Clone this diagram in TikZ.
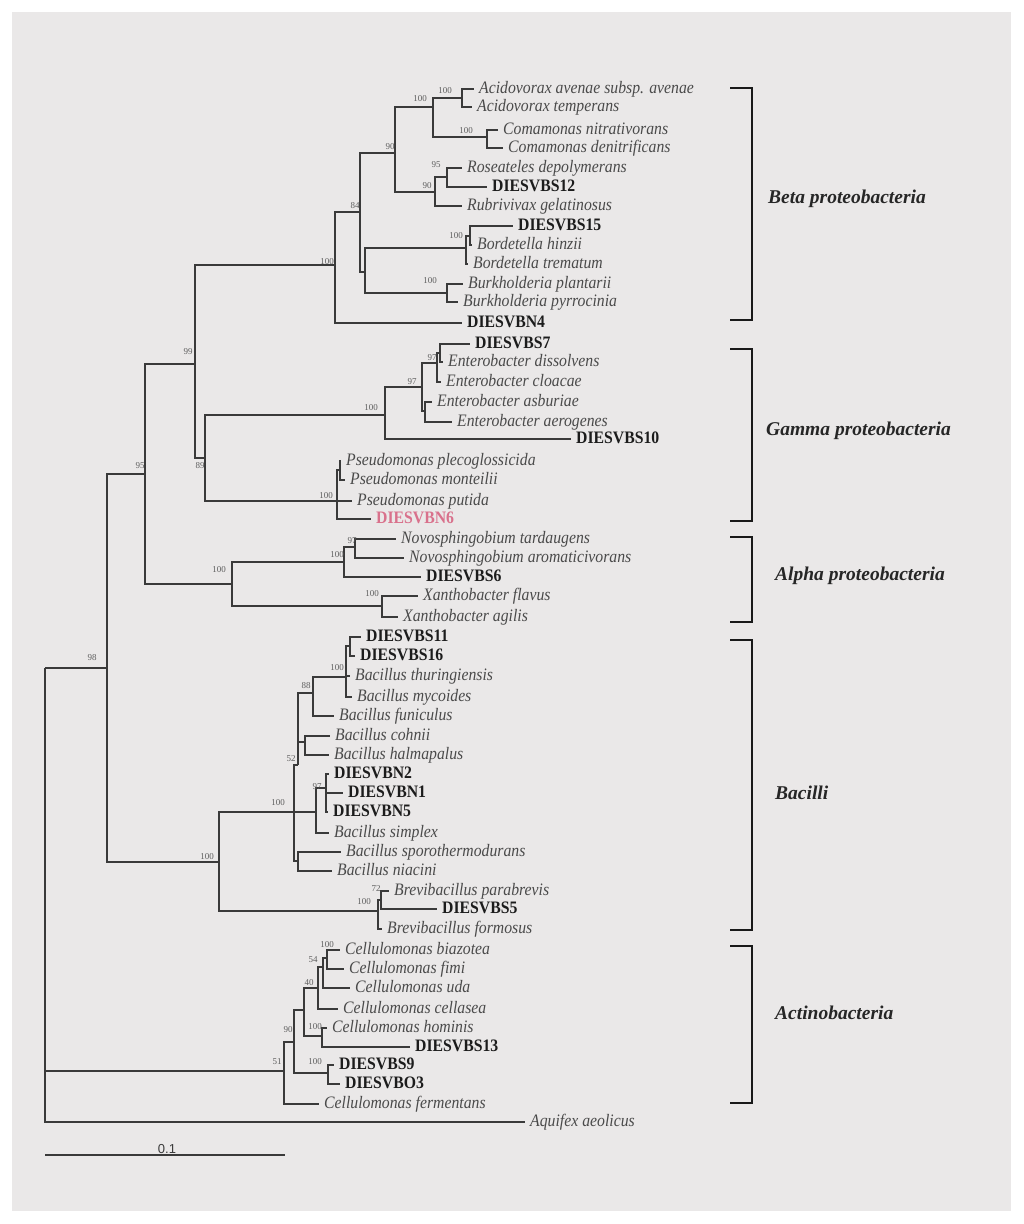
\documentclass[tikz,border=0pt]{standalone}
\usepackage{fontspec}
\setmainfont{Liberation Serif}
\newfontfamily\namefont{Liberation Serif}[FakeStretch=0.9]
\newfontfamily\barfont{Liberation Sans}

\definecolor{panel}{HTML}{EAE8E8}
\definecolor{branchcol}{HTML}{3A3A3A}
\definecolor{namecol}{HTML}{4A4A4A}
\definecolor{straincol}{HTML}{1C1C1C}
\definecolor{isolatecol}{HTML}{D9718C}
\definecolor{bootcol}{HTML}{5E5E5E}

\tikzset{
  branch/.style={draw=branchcol, line width=1.4pt},
  taxon/.style={anchor=west, inner xsep=5pt, inner ysep=0pt, text height=10pt, text depth=2pt,
    font={\namefont\fontsize{17.5}{18}\selectfont\itshape}, text=namecol},
  strain/.style={taxon, font={\namefont\fontsize{17.5}{18}\selectfont\bfseries}, text=straincol},
  boot/.style={inner sep=0pt, font={\fontsize{9}{9}\selectfont}, text=bootcol},
  bracket/.style={draw=black!90, line width=2.6pt},
  clade/.style={anchor=west, inner sep=0pt, font={\fontsize{19.5}{20}\selectfont\bfseries\itshape}, text=black!85},
}

\begin{document}
\begin{tikzpicture}[x=1pt, y=-1pt]
\useasboundingbox (0,0) rectangle (1024,1224);
\fill[panel] (12,12) rectangle (1011,1211);

% inner nodes of the tree
\coordinate (root) at (45,668);
\coordinate (n98) at (107,668);
\coordinate (n95) at (145,474);
\coordinate (n99) at (195,364);
\coordinate (nbeta) at (335,265);
\coordinate (n84) at (360,212);
\coordinate (n90a) at (395,153);
\coordinate (nacid) at (433,107);
\coordinate (nava) at (462,98);
\coordinate (ncoma) at (487,137);
\coordinate (n90b) at (435,192);
\coordinate (n95b) at (447,177);
\coordinate (nbb) at (365,272);
\coordinate (nbord) at (466,248);
\coordinate (nb2) at (470,236);
\coordinate (nburk) at (447,293);
\coordinate (n89) at (205,458);
\coordinate (nentero) at (385,415);
\coordinate (n97a) at (422,387);
\coordinate (n97b) at (437,363);
\coordinate (nds) at (440,353);
\coordinate (nasb) at (425,411);
\coordinate (npseudo) at (337,501);
\coordinate (nps2) at (340,470);
\coordinate (nalpha) at (232,584);
\coordinate (nnovo) at (344,562);
\coordinate (n97n) at (355,547);
\coordinate (nxan) at (382,606);
\coordinate (nbac) at (219,862);
\coordinate (nbx) at (294,812);
\coordinate (n52) at (298,765);
\coordinate (n88) at (313,693);
\coordinate (nthu) at (346,677);
\coordinate (nds11) at (350,646);
\coordinate (ncoh) at (305,742);
\coordinate (ndn) at (316,812);
\coordinate (n97d) at (326,788);
\coordinate (nsp) at (298,861);
\coordinate (nbrev) at (378,911);
\coordinate (n72) at (381,900);
\coordinate (nact) at (284,1071);
\coordinate (n90c) at (294,1042);
\coordinate (n40) at (304,1010);
\coordinate (nc1) at (318,988);
\coordinate (n54) at (323,967);
\coordinate (nbia) at (327,958);
\coordinate (nhom) at (322,1036);
\coordinate (nds9) at (328,1073);

% Beta proteobacteria
\node[taxon] (acav) at (474,89) {Acidovorax avenae subsp. avenae};
\node[taxon] (acte) at (472,107) {Acidovorax temperans};
\node[taxon] (conn) at (498,130) {Comamonas nitrativorans};
\node[taxon] (code) at (503,148) {Comamonas denitrificans};
\node[taxon] (rode) at (462,168) {Roseateles depolymerans};
\node[strain] (s12) at (487,187) {DIESVBS12};
\node[taxon] (rbge) at (462,206) {Rubrivivax gelatinosus};
\node[strain] (s15) at (513,226) {DIESVBS15};
\node[taxon] (bohi) at (472,245) {Bordetella hinzii};
\node[taxon] (botr) at (468,264) {Bordetella trematum};
\node[taxon] (bupl) at (463,284) {Burkholderia plantarii};
\node[taxon] (bupy) at (458,302) {Burkholderia pyrrocinia};
\node[strain] (n4) at (462,323) {DIESVBN4};

% Gamma proteobacteria
\node[strain] (s7) at (470,344) {DIESVBS7};
\node[taxon] (edis) at (443,362) {Enterobacter dissolvens};
\node[taxon] (eclo) at (441,382) {Enterobacter cloacae};
\node[taxon] (easb) at (432,402) {Enterobacter asburiae};
\node[taxon] (eaer) at (452,422) {Enterobacter aerogenes};
\node[strain] (s10) at (571,439) {DIESVBS10};
\node[taxon] (pspl) at (341,461) {Pseudomonas plecoglossicida};
\node[taxon] (psmo) at (345,480) {Pseudomonas monteilii};
\node[taxon] (pspu) at (352,501) {Pseudomonas putida};
\node[strain, text=isolatecol] (n6) at (371,519) {DIESVBN6};

% Alpha proteobacteria
\node[taxon] (nota) at (396,539) {Novosphingobium tardaugens};
\node[taxon] (noar) at (404,558) {Novosphingobium aromaticivorans};
\node[strain] (s6) at (421,577) {DIESVBS6};
\node[taxon] (xafl) at (418,596) {Xanthobacter flavus};
\node[taxon] (xaag) at (398,617) {Xanthobacter agilis};

% Bacilli
\node[strain] (s11) at (361,637) {DIESVBS11};
\node[strain] (s16) at (355,656) {DIESVBS16};
\node[taxon] (bath) at (350,676) {Bacillus thuringiensis};
\node[taxon] (bamy) at (352,697) {Bacillus mycoides};
\node[taxon] (bafu) at (334,716) {Bacillus funiculus};
\node[taxon] (baco) at (330,736) {Bacillus cohnii};
\node[taxon] (baha) at (329,755) {Bacillus halmapalus};
\node[strain] (n2) at (329,774) {DIESVBN2};
\node[strain] (n1) at (343,793) {DIESVBN1};
\node[strain] (n5) at (328,812) {DIESVBN5};
\node[taxon] (basi) at (329,833) {Bacillus simplex};
\node[taxon] (basp) at (341,852) {Bacillus sporothermodurans};
\node[taxon] (bani) at (332,871) {Bacillus niacini};
\node[taxon] (brpa) at (389,891) {Brevibacillus parabrevis};
\node[strain] (s5) at (437,909) {DIESVBS5};
\node[taxon] (brfo) at (382,929) {Brevibacillus formosus};

% Actinobacteria
\node[taxon] (ceb) at (340,950) {Cellulomonas biazotea};
\node[taxon] (cefi) at (344,969) {Cellulomonas fimi};
\node[taxon] (ceud) at (350,988) {Cellulomonas uda};
\node[taxon] (cece) at (338,1009) {Cellulomonas cellasea};
\node[taxon] (ceho) at (327,1028) {Cellulomonas hominis};
\node[strain] (s13) at (410,1047) {DIESVBS13};
\node[strain] (s9) at (334,1065) {DIESVBS9};
\node[strain] (o3) at (340,1084) {DIESVBO3};
\node[taxon] (cefe) at (319,1104) {Cellulomonas fermentans};
\node[taxon] (aqae) at (525,1122) {Aquifex aeolicus};

% branches
\draw[branch] (root) |- (n98) (root) |- (nact) (root) |- (aqae.west);
\draw[branch] (n98) |- (n95) (n98) |- (nbac);
\draw[branch] (n95) |- (n99) (n95) |- (nalpha);
\draw[branch] (n99) |- (nbeta) (n99) |- (n89);
\draw[branch] (nbeta) |- (n84) (nbeta) |- (n4.west);
\draw[branch] (n84) |- (n90a) (n84) |- (nbb);
\draw[branch] (n90a) |- (nacid) (n90a) |- (n90b);
\draw[branch] (nacid) |- (nava) (nacid) |- (ncoma);
\draw[branch] (nava) |- (acav.west) (nava) |- (acte.west);
\draw[branch] (ncoma) |- (conn.west) (ncoma) |- (code.west);
\draw[branch] (n90b) |- (n95b) (n90b) |- (rbge.west);
\draw[branch] (n95b) |- (rode.west) (n95b) |- (s12.west);
\draw[branch] (nbb) |- (nbord) (nbb) |- (nburk);
\draw[branch] (nbord) |- (nb2) (nbord) |- (botr.west);
\draw[branch] (nb2) |- (s15.west) (nb2) |- (bohi.west);
\draw[branch] (nburk) |- (bupl.west) (nburk) |- (bupy.west);
\draw[branch] (n89) |- (nentero) (n89) |- (npseudo);
\draw[branch] (nentero) |- (n97a) (nentero) |- (s10.west);
\draw[branch] (n97a) |- (n97b) (n97a) |- (nasb);
\draw[branch] (n97b) |- (nds) (n97b) |- (eclo.west);
\draw[branch] (nds) |- (s7.west) (nds) |- (edis.west);
\draw[branch] (nasb) |- (easb.west) (nasb) |- (eaer.west);
\draw[branch] (npseudo) |- (nps2) (npseudo) |- (pspu.west) (npseudo) |- (n6.west);
\draw[branch] (nps2) |- (pspl.west) (nps2) |- (psmo.west);
\draw[branch] (nalpha) |- (nnovo) (nalpha) |- (nxan);
\draw[branch] (nnovo) |- (n97n) (nnovo) |- (s6.west);
\draw[branch] (n97n) |- (nota.west) (n97n) |- (noar.west);
\draw[branch] (nxan) |- (xafl.west) (nxan) |- (xaag.west);
\draw[branch] (nbac) |- (nbx) (nbac) |- (nbrev);
\draw[branch] (nbx) |- (n52) (nbx) |- (ndn) (nbx) |- (nsp);
\draw[branch] (n52) |- (n88) (n52) |- (ncoh);
\draw[branch] (n88) |- (nthu) (n88) |- (bafu.west);
\draw[branch] (nthu) |- (nds11) (nthu) |- (bath.west) (nthu) |- (bamy.west);
\draw[branch] (nds11) |- (s11.west) (nds11) |- (s16.west);
\draw[branch] (ncoh) |- (baco.west) (ncoh) |- (baha.west);
\draw[branch] (ndn) |- (n97d) (ndn) |- (basi.west);
\draw[branch] (n97d) |- (n2.west) (n97d) |- (n1.west) (n97d) |- (n5.west);
\draw[branch] (nsp) |- (basp.west) (nsp) |- (bani.west);
\draw[branch] (nbrev) |- (n72) (nbrev) |- (brfo.west);
\draw[branch] (n72) |- (brpa.west) (n72) |- (s5.west);
\draw[branch] (nact) |- (n90c) (nact) |- (cefe.west);
\draw[branch] (n90c) |- (n40) (n90c) |- (nds9);
\draw[branch] (n40) |- (nc1) (n40) |- (nhom);
\draw[branch] (nc1) |- (n54) (nc1) |- (cece.west);
\draw[branch] (n54) |- (nbia) (n54) |- (ceud.west);
\draw[branch] (nbia) |- (ceb.west) (nbia) |- (cefi.west);
\draw[branch] (nhom) |- (ceho.west) (nhom) |- (s13.west);
\draw[branch] (nds9) |- (s9.west) (nds9) |- (o3.west);

% bootstrap values
\node[boot] (l98) at (92,658) {98};
\node[boot] (l95) at (140,466) {95};
\node[boot] (l99) at (188,352) {99};
\node[boot] (l89) at (200,466) {89};
\node[boot] (lbeta) at (327,262) {100};
\node[boot] (l84) at (355,206) {84};
\node[boot] (l90a) at (390,147) {90};
\node[boot] (lacid) at (420,99) {100};
\node[boot] (lava) at (445,91) {100};
\node[boot] (lcoma) at (466,131) {100};
\node[boot] (l90b) at (427,186) {90};
\node[boot] (l95b) at (436,165) {95};
\node[boot] (lbord) at (456,236) {100};
\node[boot] (lburk) at (430,281) {100};
\node[boot] (lentero) at (371,408) {100};
\node[boot] (l97a) at (412,382) {97};
\node[boot] (l97b) at (432,358) {97};
\node[boot] (lpseudo) at (326,496) {100};
\node[boot] (lalpha) at (219,570) {100};
\node[boot] (lnovo) at (337,555) {100};
\node[boot] (l97n) at (352,541) {97};
\node[boot] (lxan) at (372,594) {100};
\node[boot] (lbac) at (207,857) {100};
\node[boot] (lbx) at (278,803) {100};
\node[boot] (l52) at (291,759) {52};
\node[boot] (l88) at (306,686) {88};
\node[boot] (lthu) at (337,668) {100};
\node[boot] (l97d) at (317,787) {97};
\node[boot] (lbrev) at (364,902) {100};
\node[boot] (l72) at (376,889) {72};
\node[boot] (l51) at (277,1062) {51};
\node[boot] (l90c) at (288,1030) {90};
\node[boot] (l40) at (309,983) {40};
\node[boot] (l54) at (313,960) {54};
\node[boot] (lbia) at (327,945) {100};
\node[boot] (lhom) at (315,1027) {100};
\node[boot] (lds9) at (315,1062) {100};

% scale bar
\coordinate (barl) at (45,1155);
\coordinate (barr) at (285,1155);
\draw[branch] (barl) -- (barr);
\node[anchor=south, inner sep=1pt, font={\barfont\fontsize{13}{13}\selectfont}, text=branchcol] (barlab) at (167,1155) {0.1};

% clade brackets
\coordinate (betatop) at (730,88);    \coordinate (betabot) at (730,320);
\coordinate (gammatop) at (730,349);  \coordinate (gammabot) at (730,521);
\coordinate (alphatop) at (730,537);  \coordinate (alphabot) at (730,622);
\coordinate (bacitop) at (730,640);   \coordinate (bacibot) at (730,930);
\coordinate (actitop) at (730,946);   \coordinate (actibot) at (730,1103);
\draw[bracket] (betatop) -- ++(22,0) |- (betabot);
\draw[bracket] (gammatop) -- ++(22,0) |- (gammabot);
\draw[bracket] (alphatop) -- ++(22,0) |- (alphabot);
\draw[bracket] (bacitop) -- ++(22,0) |- (bacibot);
\draw[bracket] (actitop) -- ++(22,0) |- (actibot);

\node[clade] (cbeta) at (768,199) {Beta proteobacteria};
\node[clade] (cgamma) at (766,431) {Gamma proteobacteria};
\node[clade] (calpha) at (775,576) {Alpha proteobacteria};
\node[clade] (cbaci) at (775,793) {Bacilli};
\node[clade] (cacti) at (775,1013) {Actinobacteria};
\end{tikzpicture}
\end{document}
